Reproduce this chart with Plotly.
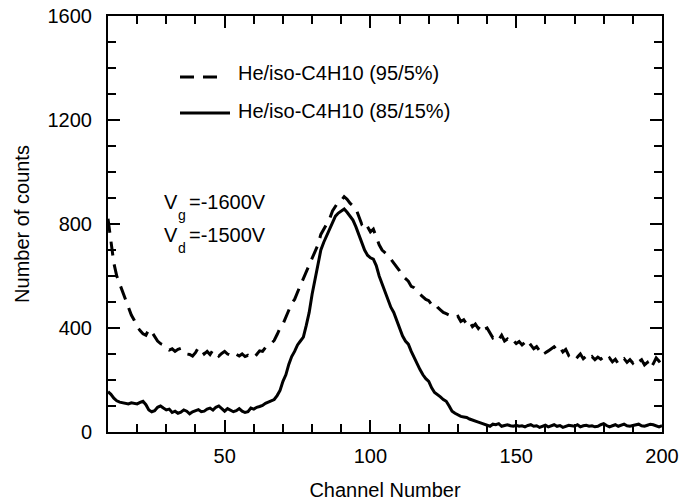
import plotly.graph_objects as go

channels = list(range(10, 201))

counts_95_5 = [
    820, 740, 650, 600, 570, 540, 510, 480, 450, 430,
    405, 390, 378, 372, 395, 385, 365, 350, 340, 335,
    325, 315, 320, 310, 318, 322, 312, 300, 298, 292,
    305, 325, 318, 300, 310, 298, 315, 305, 292, 302,
    310, 300, 295, 305, 298, 292, 300, 290, 295, 288,
    285, 300, 312, 310, 325, 330, 340, 352, 375, 400,
    415, 440, 470, 495, 510, 540, 565, 590, 615, 645,
    670, 690, 720, 760, 780, 800, 820, 850, 870, 885,
    890, 905, 895, 880, 870, 860, 830, 800, 810, 790,
    770, 780, 750, 720, 700, 690, 680, 665, 650, 635,
    620, 600, 590, 580, 560, 555, 545, 530, 520, 510,
    505, 490, 495, 480, 470, 460, 455, 450, 445, 440,
    445, 425, 432, 415, 425, 405, 415, 398, 412, 395,
    400, 378, 362, 368, 355, 372, 350, 358, 345, 352,
    340, 348, 335, 345, 325, 335, 320, 328, 312, 322,
    305, 312, 320, 328, 315, 325, 308, 318, 295, 305,
    298, 288, 300, 282, 292, 280, 290, 278, 288, 280,
    288, 275, 285, 270, 280, 262, 275, 282, 268, 278,
    265, 280, 270, 278, 258, 268, 245, 262, 285, 272,
    280,
]

counts_85_15 = [
    155, 145, 130, 120, 115, 112, 110, 108, 112, 110,
    108, 114, 118, 105, 85, 78, 82, 95, 100, 92,
    85, 88, 75, 80, 72, 76, 85, 80, 70, 78,
    82, 86, 78, 80, 88, 92, 84, 95, 100, 88,
    80, 90, 85, 78, 82, 90, 80, 75, 78, 92,
    88, 95, 98, 102, 110, 115, 118, 125, 140, 160,
    195, 220, 260, 290, 310, 335, 350, 365, 410, 460,
    530, 590, 640, 700, 730, 755, 780, 800, 830, 842,
    850, 858, 845, 830, 815, 790, 760, 735, 700, 680,
    670, 665, 640, 600, 570, 540, 510, 480, 460, 430,
    400, 370, 350, 338, 310, 285, 262, 240, 220, 205,
    195, 170, 152, 145, 135, 125, 118, 100, 80, 72,
    65, 60, 58, 56, 50, 45, 40, 38, 34, 30,
    25, 22, 30, 28, 32, 22, 25, 28, 24, 22,
    26, 22, 24, 20, 25, 28, 22, 24, 18, 22,
    26, 20, 24, 28, 22, 25, 18, 22, 26, 24,
    22, 28, 20, 24, 26, 22, 24, 20, 22, 28,
    32, 25, 20, 24, 28, 22, 26, 30, 24, 22,
    25, 28, 30, 24, 22, 26, 30, 28, 24, 20,
    24,
]

series_names = ["He/iso-C4H10 (95/5%)", "He/iso-C4H10 (85/15%)"]
x_tick_vals = [50, 100, 150, 200]
y_tick_vals = [0, 400, 800, 1200, 1600]

FONT = "Liberation Sans, Arial, Helvetica, sans-serif"
DASH = "14px,9px"

W, H = 692, 501
L, R, T, B = 108, 30, 16, 69
PW, PH = W - L - R, H - T - B


def px_x(p):
    return (p - L) / PW


def px_y(p):
    return (H - B - p) / PH


def label(x, y, text, size=20):
    fig.add_annotation(xref="paper", yref="paper", x=px_x(x), y=px_y(y),
                       xanchor="left", yanchor="middle", showarrow=False,
                       text=text, font=dict(size=size, color="black", family=FONT))


fig = go.Figure()
fig.add_trace(go.Scatter(x=channels, y=counts_95_5, mode="lines",
                         line=dict(color="black", width=3, dash=DASH),
                         name=series_names[0], showlegend=False))
fig.add_trace(go.Scatter(x=channels, y=counts_85_15, mode="lines",
                         line=dict(color="black", width=3),
                         name=series_names[1], showlegend=False))

# legend samples
fig.add_shape(type="line", xref="paper", yref="paper",
              x0=px_x(180), x1=px_x(223), y0=px_y(77), y1=px_y(77),
              line=dict(color="black", width=3, dash=DASH))
fig.add_shape(type="line", xref="paper", yref="paper",
              x0=px_x(180), x1=px_x(230), y0=px_y(113), y1=px_y(113),
              line=dict(color="black", width=3))
label(236, 73, series_names[0])
label(236, 111, series_names[1])

# voltage annotations
label(162, 202, "V")
label(176, 215, "g", 14)
label(187, 202, "=-1600V")
label(162, 235, "V")
label(176, 248, "d", 14)
label(187, 235, "=-1500V")

fig.update_layout(
    width=W, height=H,
    margin=dict(l=L, r=R, t=T, b=B, pad=0, autoexpand=False),
    paper_bgcolor="white", plot_bgcolor="white",
    font=dict(family=FONT, size=20, color="black"),
    showlegend=False,
)
fig.update_xaxes(
    range=[10, 200], tickvals=x_tick_vals, ticktext=[str(v) for v in x_tick_vals],
    ticks="inside", ticklen=12, tickwidth=1.5, tickcolor="black",
    minor=dict(dtick=10, tick0=0, ticks="inside", ticklen=8, tickwidth=1.5, tickcolor="black"),
    showline=True, linecolor="black", linewidth=2, mirror="ticks",
    showgrid=False, zeroline=False, automargin=False,
    title=dict(text="Channel Number", font=dict(size=20), standoff=23),
    tickfont=dict(size=20), ticklabelstandoff=5,
)
fig.update_yaxes(
    range=[0, 1600], tickvals=y_tick_vals, ticktext=[str(v) for v in y_tick_vals],
    ticks="inside", ticklen=12, tickwidth=1.5, tickcolor="black",
    minor=dict(dtick=100, tick0=0, ticks="inside", ticklen=8, tickwidth=1.5, tickcolor="black"),
    showline=True, linecolor="black", linewidth=2, mirror="ticks",
    showgrid=False, zeroline=False, automargin=False,
    title=dict(text="Number of counts", font=dict(size=20), standoff=13),
    tickfont=dict(size=20), ticklabelstandoff=10,
)

fig.write_html("out.html")
